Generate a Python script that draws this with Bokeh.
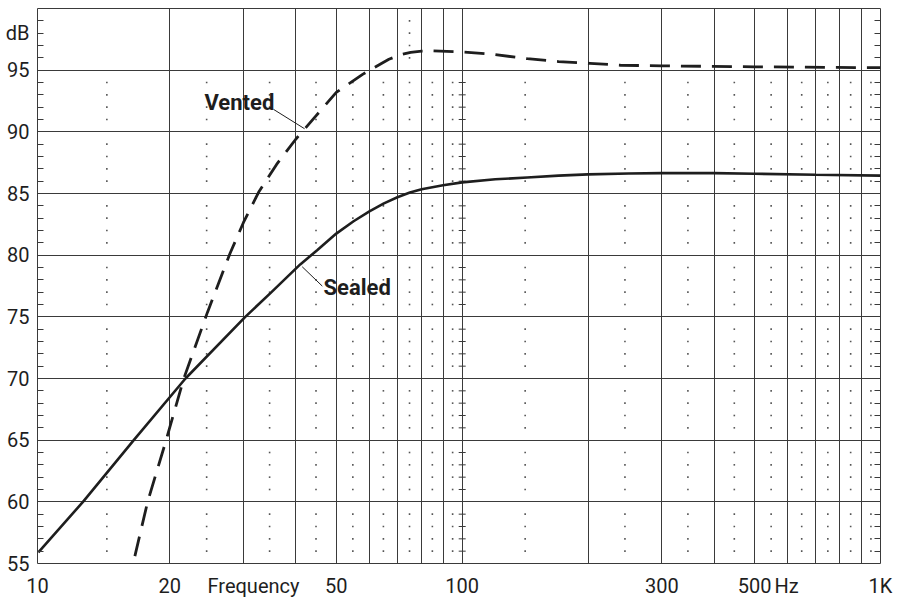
import numpy as np
from bokeh.plotting import figure
from bokeh.models import FixedTicker, LinearAxis, Label, Range1d
from bokeh.embed import file_html
from bokeh.resources import INLINE

# ---- data ----
sealed_freq = [9.7, 12.4, 16.4, 21.8, 30.3, 35.0, 41.0, 45.0, 50.0, 55.0,
               60.0, 65.0, 70.0, 75.0, 80.0, 90.0, 100.0, 120.0, 143.0,
               170.0, 200.0, 250.0, 300.0, 400.0, 500.0, 700.0, 1000.0]
sealed_db = [55.9, 60.0, 65.0, 70.0, 75.0, 77.0, 79.25, 80.4, 81.75, 82.75,
             83.55, 84.2, 84.7, 85.08, 85.35, 85.67, 85.9, 86.15, 86.3,
             86.45, 86.55, 86.62, 86.65, 86.65, 86.6, 86.52, 86.45]

vented_freq = [16.5, 17.7, 19.6, 21.6, 24.6, 27.9, 30.0, 32.6, 36.0, 40.0,
               44.6, 50.0, 57.8, 63.8, 66.8, 71.2, 75.3, 80.0, 85.0, 100.0,
               119.0, 143.0, 170.0, 202.0, 239.0, 300.0, 500.0, 1000.0]
vented_db = [55.6, 60.0, 65.0, 70.0, 75.36, 80.2, 82.65, 85.1, 87.36, 89.4,
             91.25, 93.2, 94.66, 95.5, 95.88, 96.25, 96.45, 96.55, 96.57,
             96.48, 96.28, 95.93, 95.7, 95.55, 95.4, 95.35, 95.27, 95.2]

x_tick_values = [9.66, 20, 31.7, 50, 100, 300, 500, 596, 999.5]
x_tick_labels = ["10", "20", "Frequency", "50", "100", "300", "500", "Hz", "1K"]
y_tick_values = [55, 60, 65, 70, 75, 80, 85, 90, 95, 98]
y_tick_labels = ["55", "60", "65", "70", "75", "80", "85", "90", "95", "dB"]
grid_freqs = [10, 20, 30, 40, 50, 60, 70, 80, 90, 100,
              200, 300, 400, 500, 600, 700, 800, 900, 1000]
grid_db = [60, 65, 70, 75, 80, 85, 90, 95]

X0, X1 = 9.654, 1000.0
Y0, Y1 = 55.0, 100.0

INK = "#1e1e1e"
GRID = "#3a3a3a"
FONT = "Roboto"

p = figure(width=899, height=600, x_axis_type="log",
           x_range=Range1d(X0, X1), y_range=Range1d(Y0, Y1),
           output_backend="svg", toolbar_location=None,
           min_border_left=37, min_border_right=19,
           min_border_top=8, min_border_bottom=36)
p.background_fill_color = "white"
p.border_fill_color = "white"
p.outline_line_color = GRID
p.outline_line_width = 1

minor_y = [v for v in range(56, 100) if v % 5 != 0]

# bottom axis (labels only)
xa = p.xaxis[0]
xa.ticker = FixedTicker(ticks=x_tick_values, minor_ticks=[])
xa.major_label_overrides = {v: l for v, l in zip(x_tick_values, x_tick_labels)}
xa.axis_line_color = None
xa.major_tick_in = 0
xa.major_tick_out = 0
xa.minor_tick_in = 0
xa.minor_tick_out = 0
xa.major_label_standoff = 10
xa.major_label_text_font = FONT
xa.major_label_text_font_size = "20px"
xa.major_label_text_color = INK

# left axis
ya = p.yaxis[0]
ya.ticker = FixedTicker(ticks=y_tick_values, minor_ticks=minor_y)
ya.major_label_overrides = {v: l for v, l in zip(y_tick_values, y_tick_labels)}
ya.axis_line_color = None
ya.major_tick_in = 0
ya.major_tick_out = 0
ya.minor_tick_in = 6
ya.minor_tick_out = 0
ya.minor_tick_line_color = GRID
ya.major_label_standoff = 8
ya.major_label_text_font = FONT
ya.major_label_text_font_size = "20px"
ya.major_label_text_color = INK

# right axis (minor ticks only)
ra = LinearAxis(ticker=FixedTicker(ticks=[], minor_ticks=minor_y),
                axis_line_color=None, major_tick_in=0, major_tick_out=0,
                minor_tick_in=6, minor_tick_out=0, minor_tick_line_color=GRID,
                major_label_standoff=0)
p.add_layout(ra, "right")

# grids
p.xgrid.ticker = FixedTicker(ticks=[g for g in grid_freqs if g not in (10, 1000)])
p.ygrid.ticker = FixedTicker(ticks=grid_db)
for g in (p.xgrid[0], p.ygrid[0]):
    g.grid_line_color = GRID
    g.grid_line_width = 1
    g.grid_line_alpha = 1.0

# dotted intermediate lines (geometric midpoints between grid lines)
dx, dy = [], []
for a, b in zip(grid_freqs[:-1], grid_freqs[1:]):
    m = float(np.sqrt(a * b))
    levels = [v for v in range(56, 95) if v % 5 != 0]
    if a == 70:
        levels = levels + [96, 97, 98, 99]
    for v in levels:
        dx.append(m)
        dy.append(v)
p.scatter(dx, dy, marker="square", size=1.6, line_color=None,
          fill_color="#555555")

# small ticks along the 100 Hz line
tick100 = [v for v in minor_y if v < 95]
p.scatter([100] * len(tick100), tick100, marker="dash", size=7,
          line_color=GRID, line_width=1)

# curves
p.line(sealed_freq, sealed_db, line_color=INK, line_width=2.6)
p.line(vented_freq, vented_db, line_color=INK, line_width=2.8,
       line_dash="20 11")

# leader lines
p.line([35.4, 42.0], [91.82, 90.25], line_color=INK, line_width=1)
p.line([41.45, 46.3], [79.06, 77.49], line_color=INK, line_width=1)

# curve labels
p.add_layout(Label(x=24.2, y=92.4, text="Vented", text_align="left",
                   text_baseline="alphabetic", text_font=FONT,
                   text_font_style="bold", text_font_size="22px",
                   text_color=INK))
p.add_layout(Label(x=46.6, y=77.4, text="Sealed", text_align="left",
                   text_baseline="alphabetic", text_font=FONT,
                   text_font_style="bold", text_font_size="22px",
                   text_color=INK))

open("out.html", "w").write(file_html(p, INLINE))
